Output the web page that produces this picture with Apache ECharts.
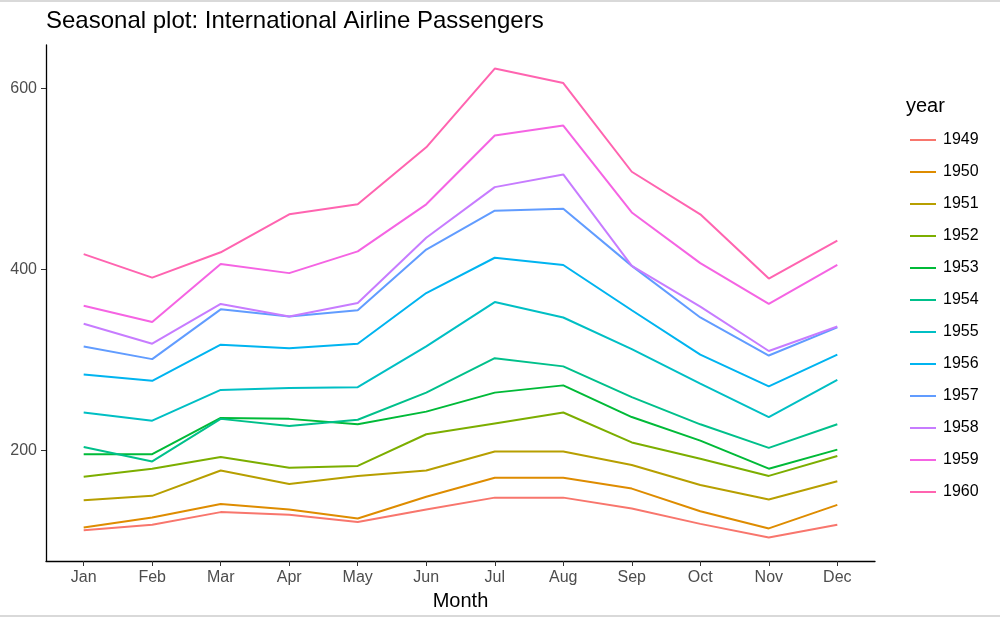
<!DOCTYPE html>
<html><head><meta charset="utf-8">
<script src="https://cdn.jsdelivr.net/npm/echarts@6/dist/echarts.min.js"></script>
<style>html,body{margin:0;padding:0;background:#fff}#c{width:1000px;height:618px}</style>
</head><body><div id="c"></div>
<script>
const months = ['Jan','Feb','Mar','Apr','May','Jun','Jul','Aug','Sep','Oct','Nov','Dec'];
const years = ['1949','1950','1951','1952','1953','1954','1955','1956','1957','1958','1959','1960'];
const y1949 = [112,118,132,129,121,135,148,148,136,119,104,118];
const y1950 = [115,126,141,135,125,149,170,170,158,133,114,140];
const y1951 = [145,150,178,163,172,178,199,199,184,162,146,166];
const y1952 = [171,180,193,181,183,218,230,242,209,191,172,194];
const y1953 = [196,196,236,235,229,243,264,272,237,211,180,201];
const y1954 = [204,188,235,227,234,264,302,293,259,229,203,229];
const y1955 = [242,233,267,269,270,315,364,347,312,274,237,278];
const y1956 = [284,277,317,313,318,374,413,405,355,306,271,306];
const y1957 = [315,301,356,348,355,422,465,467,404,347,305,336];
const y1958 = [340,318,362,348,363,435,491,505,404,359,310,337];
const y1959 = [360,342,406,396,420,472,548,559,463,407,362,405];
const y1960 = [417,391,419,461,472,535,622,606,508,461,390,432];
const yTicks = [200,400,600];
const values = [y1949,y1950,y1951,y1952,y1953,y1954,y1955,y1956,y1957,y1958,y1959,y1960];
const colors = ['#F8766D','#DE8C00','#B79F00','#7CAE00','#00BA38','#00C08B','#00BFC4','#00B4F0','#619CFF','#C77CFF','#F564E3','#FF64B0'];

const F = 'Liberation Sans, Arial, sans-serif';
const chart = echarts.init(document.getElementById('c'), null, {renderer:'canvas'});
const series = years.map((y,i)=>({
  name: y, type:'line', symbol:'none', animation:false,
  data: values[i].map((v,j)=>[j,v]),
  lineStyle:{width:2,color:colors[i]}, itemStyle:{color:colors[i]}
}));
chart.setOption({
  animation:false,
  backgroundColor:'#fff',
  title:{text:'Seasonal plot: International Airline Passengers',left:46,top:9,padding:0,
    textStyle:{fontFamily:F,fontSize:24,fontWeight:'normal',color:'#000'}},
  grid:{left:46,right:125,top:45,bottom:57,containLabel:false},
  xAxis:{type:'value',min:-0.55,max:11.55,
    name:'Month',nameLocation:'middle',nameGap:30,
    nameTextStyle:{fontFamily:F,fontSize:20,color:'#000'},
    axisLine:{show:true,onZero:false,lineStyle:{color:'#000',width:1.3}},
    axisTick:{show:true,customValues:months.map((m,i)=>i),length:5,lineStyle:{color:'#333'}},
    axisLabel:{customValues:months.map((m,i)=>i),formatter:v=>months[Math.round(v)],
      fontFamily:F,fontSize:16,color:'#4d4d4d',margin:9},
    splitLine:{show:false}},
  yAxis:{type:'value',min:78,max:648,
    axisLine:{show:true,onZero:false,lineStyle:{color:'#000',width:1.3}},
    axisTick:{show:true,customValues:yTicks,length:5,lineStyle:{color:'#333'}},
    axisLabel:{customValues:yTicks,fontFamily:F,fontSize:16,color:'#4d4d4d',margin:9},
    splitLine:{show:false}},
  legend:{orient:'vertical',left:910,top:132,itemWidth:26,itemHeight:16,itemGap:16,padding:0,
    data:years,icon:'path://M0,7 L26,7 L26,9 L0,9 Z',
    textStyle:{fontFamily:F,fontSize:16,color:'#000',padding:[0,0,0,2]}},
  graphic:[
    {type:'text',left:906,top:96,style:{text:'year',fontFamily:F,fontSize:20,fill:'#000'}},
    {type:'line',shape:{x1:0,y1:1,x2:1000,y2:1},style:{stroke:'#d9d9d9',lineWidth:2}},
    {type:'line',shape:{x1:0,y1:616,x2:1000,y2:616},style:{stroke:'#d9d9d9',lineWidth:2}}
  ],
  series
});
</script></body></html>
